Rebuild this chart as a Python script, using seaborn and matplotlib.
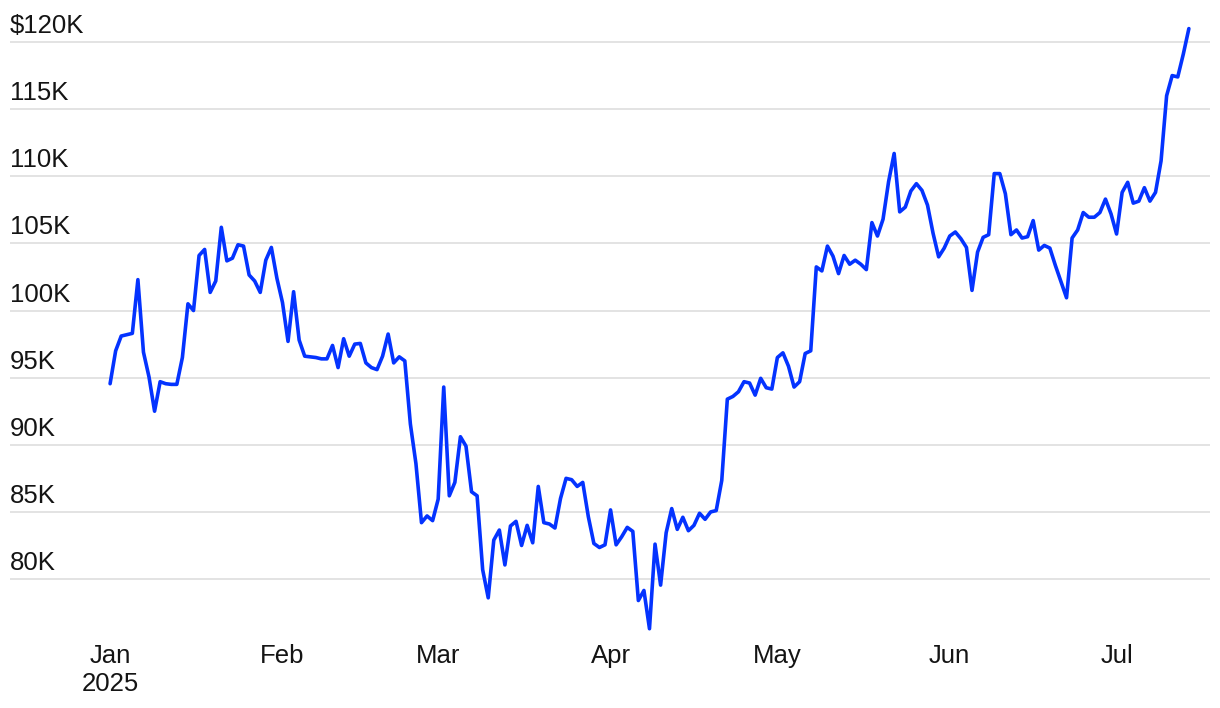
import matplotlib
matplotlib.use("Agg")
import matplotlib.pyplot as plt
import pandas as pd
import seaborn as sns

# daily closing price, thousands of USD
jan = [94.55, 97.0, 98.1, 98.2, 98.3, 102.3, 96.9, 95.05, 92.5, 94.7, 94.55,
       94.5, 94.5, 96.5, 100.5, 100.0, 104.1, 104.55, 101.35, 102.2, 106.2,
       103.7, 103.9, 104.9, 104.8, 102.65, 102.2, 101.35, 103.75, 104.7, 102.4]
feb = [100.6, 97.7, 101.4, 97.8, 96.6, 96.55, 96.5, 96.4, 96.4, 97.4, 95.75,
       97.9, 96.6, 97.5, 97.55, 96.1, 95.75, 95.6, 96.6, 98.25, 96.1, 96.55,
       96.25, 91.55, 88.6, 84.2, 84.7, 84.35]
mar = [85.95, 94.3, 86.2, 87.2, 90.6, 89.9, 86.5, 86.2, 80.7, 78.6, 82.9,
       83.65, 81.05, 83.95, 84.3, 82.5, 84.0, 82.7, 86.9, 84.2, 84.1, 83.8,
       86.0, 87.5, 87.4, 86.9, 87.2, 84.65, 82.65, 82.35, 82.55]
apr = [85.15, 82.55, 83.15, 83.85, 83.55, 78.4, 79.15, 76.3, 82.6, 79.55,
       83.45, 85.25, 83.7, 84.6, 83.6, 84.0, 84.9, 84.45, 85.0, 85.1, 87.35,
       93.4, 93.6, 93.95, 94.7, 94.6, 93.7, 94.95, 94.25, 94.15]
may = [96.5, 96.85, 95.85, 94.3, 94.7, 96.8, 97.0, 103.25, 102.95, 104.8,
       104.05, 102.75, 104.1, 103.45, 103.75, 103.45, 103.05, 106.55, 105.55,
       106.8, 109.6, 111.7, 107.35, 107.7, 108.9, 109.45, 108.95, 107.85,
       105.75, 104.0, 104.65]
jun = [105.55, 105.85, 105.35, 104.7, 101.5, 104.35, 105.45, 105.65, 110.2,
       110.2, 108.7, 105.65, 106.0, 105.4, 105.5, 106.7, 104.5, 104.85,
       104.65, 103.35, 102.15, 100.95, 105.4, 106.0, 107.3, 106.95, 106.95,
       107.3, 108.3, 107.2]
jul = [105.7, 108.8, 109.55, 108.0, 108.15, 109.15, 108.15, 108.8, 111.15,
       116.0, 117.5, 117.4, 119.1, 121.0]

y_ticks = [80, 85, 90, 95, 100, 105, 110, 115, 120]
y_labels = ["80K", "85K", "90K", "95K", "100K", "105K", "110K", "115K", "$120K"]
month_starts = ["2025-01-01", "2025-02-01", "2025-03-01", "2025-04-01",
                "2025-05-01", "2025-06-01", "2025-07-01"]
month_labels = ["Jan\n2025", "Feb", "Mar", "Apr", "May", "Jun", "Jul"]

prices = jan + feb + mar + apr + may + jun + jul
df = pd.DataFrame({
    "date": pd.date_range("2025-01-01", periods=len(prices), freq="D"),
    "price": prices,
})

sns.set_style("white")
plt.rcParams["font.family"] = ["Liberation Sans", "DejaVu Sans"]
text_color = "#141414"

fig = plt.figure(figsize=(12.2, 7.08), dpi=100)
ax = fig.add_axes([10 / 1220, 68 / 708, 1200 / 1220, 640 / 708])

sns.lineplot(data=df, x="date", y="price", ax=ax, color="#0433ff",
             linewidth=2.6, zorder=3)

ax.set_xlim(pd.Timestamp("2025-01-01") - pd.Timedelta(days=18),
            pd.Timestamp("2025-01-01") + pd.Timedelta(days=197.8))
ax.set_ylim(75.46, 123.13)

ax.set_yticks(y_ticks)
ax.set_yticklabels([])
ax.yaxis.grid(True, color="#e3e3e3", linewidth=1.4)
ax.xaxis.grid(False)
for v, lab in zip(y_ticks, y_labels):
    ax.annotate(lab, xy=(0, v), xycoords=("axes fraction", "data"),
                xytext=(0, 9), textcoords="offset pixels",
                ha="left", va="baseline", fontsize=18.5, color=text_color)

ax.set_xticks(pd.to_datetime(month_starts))
ax.set_xticklabels(month_labels, fontsize=18.5, color=text_color)
ax.tick_params(axis="both", length=0)
ax.tick_params(axis="x", pad=3)

for s in ax.spines.values():
    s.set_visible(False)
ax.set_xlabel("")
ax.set_ylabel("")

fig.savefig("out.png", dpi=100)
